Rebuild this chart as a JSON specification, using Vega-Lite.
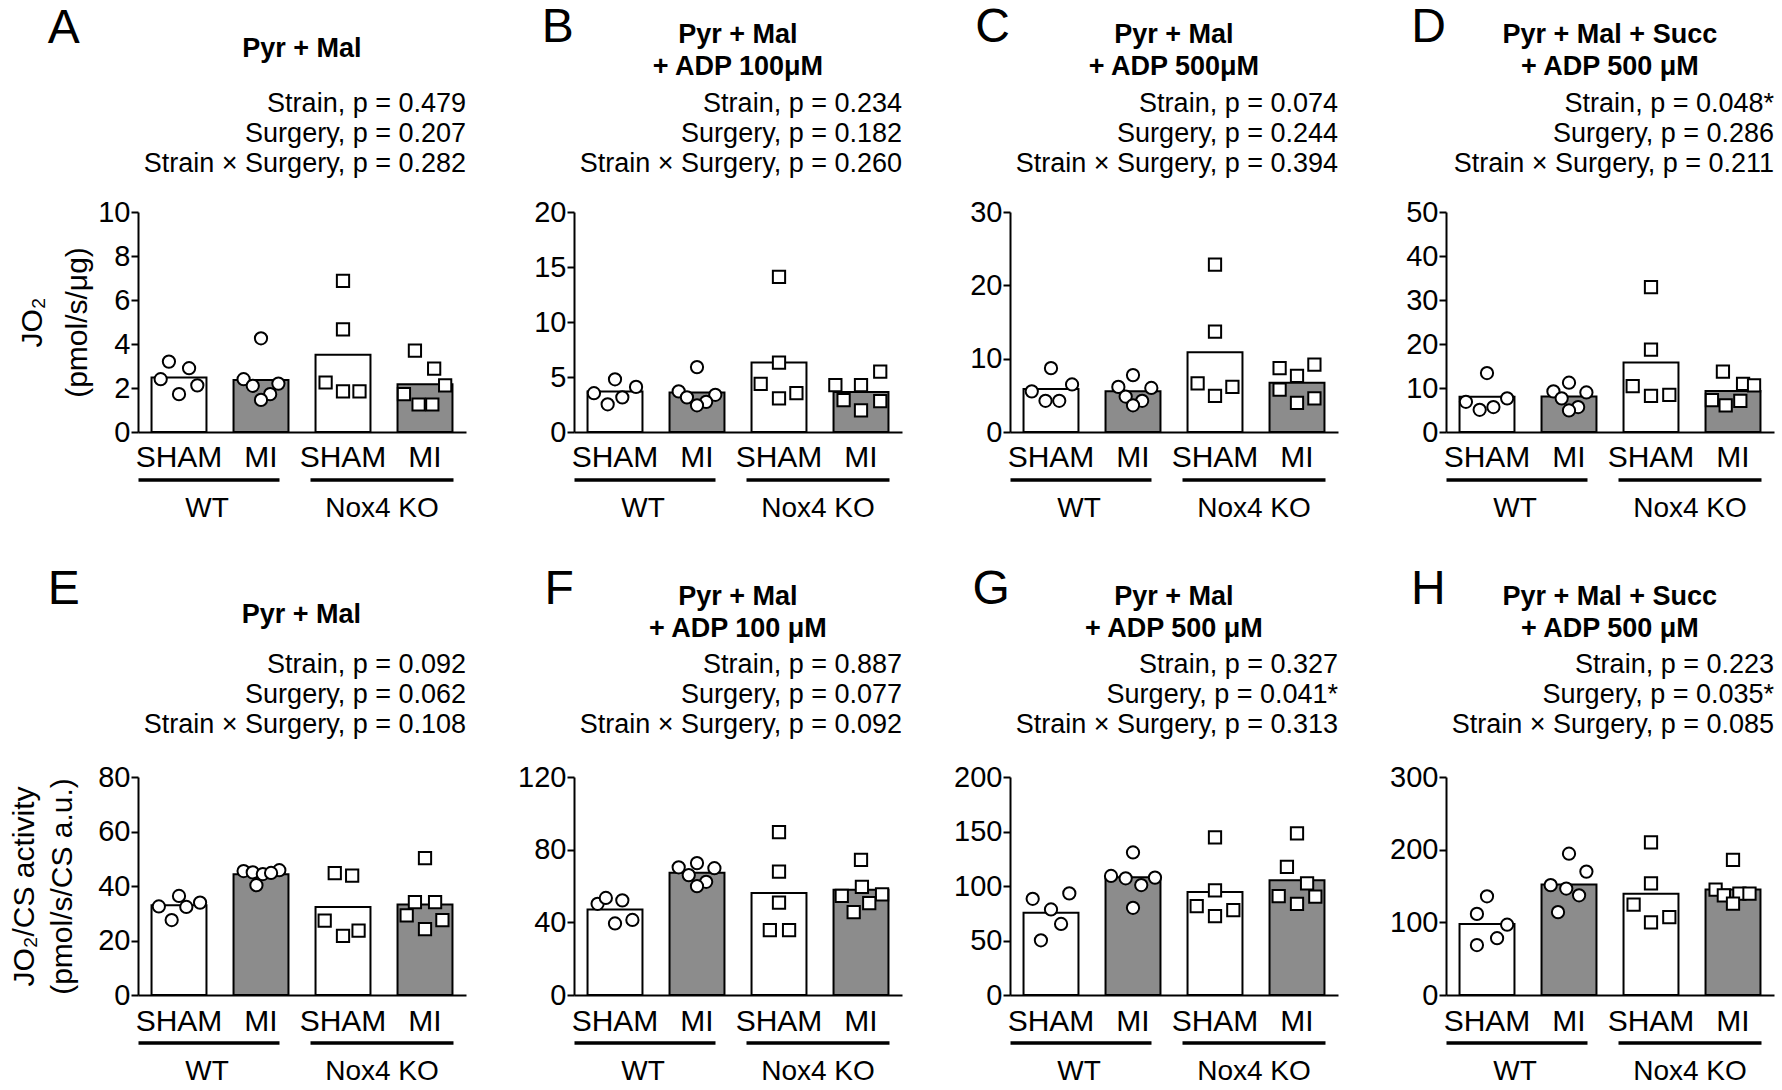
{
"$schema": "https://vega.github.io/schema/vega-lite/v6.json",
"background": "white",
"padding": {"left": 9, "top": 4, "right": 4, "bottom": 0},
"spacing": 42,
"datasets": {
"bars": [
{"panel":"A","strain":"WT","surgery":"SHAM","value":2.48},{"panel":"A","strain":"WT","surgery":"MI","value":2.36},{"panel":"A","strain":"Nox4 KO","surgery":"SHAM","value":3.51},{"panel":"A","strain":"Nox4 KO","surgery":"MI","value":2.17},
{"panel":"B","strain":"WT","surgery":"SHAM","value":3.69},{"panel":"B","strain":"WT","surgery":"MI","value":3.6},{"panel":"B","strain":"Nox4 KO","surgery":"SHAM","value":6.31},{"panel":"B","strain":"Nox4 KO","surgery":"MI","value":3.63},
{"panel":"C","strain":"WT","surgery":"SHAM","value":5.87},{"panel":"C","strain":"WT","surgery":"MI","value":5.54},{"panel":"C","strain":"Nox4 KO","surgery":"SHAM","value":10.88},{"panel":"C","strain":"Nox4 KO","surgery":"MI","value":6.72},
{"panel":"D","strain":"WT","surgery":"SHAM","value":8.0},{"panel":"D","strain":"WT","surgery":"MI","value":8.04},{"panel":"D","strain":"Nox4 KO","surgery":"SHAM","value":15.77},{"panel":"D","strain":"Nox4 KO","surgery":"MI","value":9.3},
{"panel":"E","strain":"WT","surgery":"SHAM","value":32.9},{"panel":"E","strain":"WT","surgery":"MI","value":44.3},{"panel":"E","strain":"Nox4 KO","surgery":"SHAM","value":32.26},{"panel":"E","strain":"Nox4 KO","surgery":"MI","value":33.25},
{"panel":"F","strain":"WT","surgery":"SHAM","value":47.07},{"panel":"F","strain":"WT","surgery":"MI","value":67.35},{"panel":"F","strain":"Nox4 KO","surgery":"SHAM","value":56.2},{"panel":"F","strain":"Nox4 KO","surgery":"MI","value":58.0},
{"panel":"G","strain":"WT","surgery":"SHAM","value":75.4},{"panel":"G","strain":"WT","surgery":"MI","value":108.0},{"panel":"G","strain":"Nox4 KO","surgery":"SHAM","value":94.5},{"panel":"G","strain":"Nox4 KO","surgery":"MI","value":105.2},
{"panel":"H","strain":"WT","surgery":"SHAM","value":97.7},{"panel":"H","strain":"WT","surgery":"MI","value":152.1},{"panel":"H","strain":"Nox4 KO","surgery":"SHAM","value":139.5},{"panel":"H","strain":"Nox4 KO","surgery":"MI","value":145.1}
],
"points": [
{"panel":"A","group":"WT SHAM","strain":"WT","value":3.2,"slot":-1.1},{"panel":"A","group":"WT SHAM","strain":"WT","value":2.9,"slot":1.1},{"panel":"A","group":"WT SHAM","strain":"WT","value":2.4,"slot":-2},{"panel":"A","group":"WT SHAM","strain":"WT","value":2.12,"slot":2},{"panel":"A","group":"WT SHAM","strain":"WT","value":1.72,"slot":0},
{"panel":"A","group":"WT MI","strain":"WT","value":4.26,"slot":0},{"panel":"A","group":"WT MI","strain":"WT","value":2.4,"slot":-1.9},{"panel":"A","group":"WT MI","strain":"WT","value":2.1,"slot":-0.9},{"panel":"A","group":"WT MI","strain":"WT","value":2.2,"slot":1.9},{"panel":"A","group":"WT MI","strain":"WT","value":1.72,"slot":1},{"panel":"A","group":"WT MI","strain":"WT","value":1.46,"slot":0},
{"panel":"A","group":"KO SHAM","strain":"Nox4 KO","value":6.87,"slot":0},{"panel":"A","group":"KO SHAM","strain":"Nox4 KO","value":4.67,"slot":0},{"panel":"A","group":"KO SHAM","strain":"Nox4 KO","value":2.25,"slot":-1.9},{"panel":"A","group":"KO SHAM","strain":"Nox4 KO","value":1.85,"slot":0},{"panel":"A","group":"KO SHAM","strain":"Nox4 KO","value":1.85,"slot":1.8},
{"panel":"A","group":"KO MI","strain":"Nox4 KO","value":3.7,"slot":-1.1},{"panel":"A","group":"KO MI","strain":"Nox4 KO","value":2.88,"slot":1},{"panel":"A","group":"KO MI","strain":"Nox4 KO","value":2.12,"slot":2.2},{"panel":"A","group":"KO MI","strain":"Nox4 KO","value":1.72,"slot":-2.3},{"panel":"A","group":"KO MI","strain":"Nox4 KO","value":1.25,"slot":-0.7},{"panel":"A","group":"KO MI","strain":"Nox4 KO","value":1.25,"slot":0.8},

{"panel":"B","group":"WT SHAM","strain":"WT","value":4.79,"slot":0},{"panel":"B","group":"WT SHAM","strain":"WT","value":3.53,"slot":-2.3},{"panel":"B","group":"WT SHAM","strain":"WT","value":4.1,"slot":2.3},{"panel":"B","group":"WT SHAM","strain":"WT","value":3.15,"slot":0.8},{"panel":"B","group":"WT SHAM","strain":"WT","value":2.52,"slot":-0.8},
{"panel":"B","group":"WT MI","strain":"WT","value":5.9,"slot":0},{"panel":"B","group":"WT MI","strain":"WT","value":3.69,"slot":-2},{"panel":"B","group":"WT MI","strain":"WT","value":3.15,"slot":-1.1},{"panel":"B","group":"WT MI","strain":"WT","value":3.38,"slot":2},{"panel":"B","group":"WT MI","strain":"WT","value":2.74,"slot":1},{"panel":"B","group":"WT MI","strain":"WT","value":2.43,"slot":0},
{"panel":"B","group":"KO SHAM","strain":"Nox4 KO","value":14.1,"slot":0},{"panel":"B","group":"KO SHAM","strain":"Nox4 KO","value":6.31,"slot":0},{"panel":"B","group":"KO SHAM","strain":"Nox4 KO","value":4.38,"slot":-2},{"panel":"B","group":"KO SHAM","strain":"Nox4 KO","value":3.53,"slot":1.9},{"panel":"B","group":"KO SHAM","strain":"Nox4 KO","value":3.06,"slot":0},
{"panel":"B","group":"KO MI","strain":"Nox4 KO","value":5.49,"slot":2.1},{"panel":"B","group":"KO MI","strain":"Nox4 KO","value":4.26,"slot":-2.8},{"panel":"B","group":"KO MI","strain":"Nox4 KO","value":4.26,"slot":0},{"panel":"B","group":"KO MI","strain":"Nox4 KO","value":2.9,"slot":-1.9},{"panel":"B","group":"KO MI","strain":"Nox4 KO","value":2.81,"slot":2.1},{"panel":"B","group":"KO MI","strain":"Nox4 KO","value":1.96,"slot":0},

{"panel":"C","group":"WT SHAM","strain":"WT","value":8.71,"slot":0},{"panel":"C","group":"WT SHAM","strain":"WT","value":5.54,"slot":-2.1},{"panel":"C","group":"WT SHAM","strain":"WT","value":6.48,"slot":2.3},{"panel":"C","group":"WT SHAM","strain":"WT","value":4.26,"slot":0.9},{"panel":"C","group":"WT SHAM","strain":"WT","value":4.26,"slot":-0.6},
{"panel":"C","group":"WT MI","strain":"WT","value":7.76,"slot":0},{"panel":"C","group":"WT MI","strain":"WT","value":6.15,"slot":-1.6},{"panel":"C","group":"WT MI","strain":"WT","value":6.01,"slot":2},{"panel":"C","group":"WT MI","strain":"WT","value":4.83,"slot":-0.8},{"panel":"C","group":"WT MI","strain":"WT","value":4.26,"slot":1},{"panel":"C","group":"WT MI","strain":"WT","value":3.64,"slot":0},
{"panel":"C","group":"KO SHAM","strain":"Nox4 KO","value":22.81,"slot":0},{"panel":"C","group":"KO SHAM","strain":"Nox4 KO","value":13.68,"slot":0},{"panel":"C","group":"KO SHAM","strain":"Nox4 KO","value":6.63,"slot":-1.9},{"panel":"C","group":"KO SHAM","strain":"Nox4 KO","value":6.15,"slot":1.9},{"panel":"C","group":"KO SHAM","strain":"Nox4 KO","value":4.92,"slot":0},
{"panel":"C","group":"KO MI","strain":"Nox4 KO","value":9.18,"slot":1.9},{"panel":"C","group":"KO MI","strain":"Nox4 KO","value":8.71,"slot":-1.9},{"panel":"C","group":"KO MI","strain":"Nox4 KO","value":7.67,"slot":0},{"panel":"C","group":"KO MI","strain":"Nox4 KO","value":5.77,"slot":-1.9},{"panel":"C","group":"KO MI","strain":"Nox4 KO","value":4.59,"slot":1.9},{"panel":"C","group":"KO MI","strain":"Nox4 KO","value":3.98,"slot":0},

{"panel":"D","group":"WT SHAM","strain":"WT","value":13.4,"slot":0},{"panel":"D","group":"WT SHAM","strain":"WT","value":6.86,"slot":-2.3},{"panel":"D","group":"WT SHAM","strain":"WT","value":7.65,"slot":2.2},{"panel":"D","group":"WT SHAM","strain":"WT","value":5.68,"slot":0.7},{"panel":"D","group":"WT SHAM","strain":"WT","value":5.05,"slot":-0.8},
{"panel":"D","group":"WT MI","strain":"WT","value":11.2,"slot":0},{"panel":"D","group":"WT MI","strain":"WT","value":9.23,"slot":-1.7},{"panel":"D","group":"WT MI","strain":"WT","value":8.99,"slot":1.9},{"panel":"D","group":"WT MI","strain":"WT","value":7.65,"slot":-0.8},{"panel":"D","group":"WT MI","strain":"WT","value":5.68,"slot":1},{"panel":"D","group":"WT MI","strain":"WT","value":4.89,"slot":0},
{"panel":"D","group":"KO SHAM","strain":"Nox4 KO","value":32.9,"slot":0},{"panel":"D","group":"KO SHAM","strain":"Nox4 KO","value":18.7,"slot":0},{"panel":"D","group":"KO SHAM","strain":"Nox4 KO","value":10.4,"slot":-2},{"panel":"D","group":"KO SHAM","strain":"Nox4 KO","value":8.44,"slot":2},{"panel":"D","group":"KO SHAM","strain":"Nox4 KO","value":8.2,"slot":0},
{"panel":"D","group":"KO MI","strain":"Nox4 KO","value":13.7,"slot":-1.1},{"panel":"D","group":"KO MI","strain":"Nox4 KO","value":10.96,"slot":1.1},{"panel":"D","group":"KO MI","strain":"Nox4 KO","value":10.57,"slot":2.3},{"panel":"D","group":"KO MI","strain":"Nox4 KO","value":7.26,"slot":-2.3},{"panel":"D","group":"KO MI","strain":"Nox4 KO","value":7.1,"slot":0.8},{"panel":"D","group":"KO MI","strain":"Nox4 KO","value":6.07,"slot":-0.8},

{"panel":"E","group":"WT SHAM","strain":"WT","value":36.35,"slot":0},{"panel":"E","group":"WT SHAM","strain":"WT","value":32.5,"slot":-2.2},{"panel":"E","group":"WT SHAM","strain":"WT","value":33.9,"slot":2.3},{"panel":"E","group":"WT SHAM","strain":"WT","value":32.3,"slot":0.8},{"panel":"E","group":"WT SHAM","strain":"WT","value":27.5,"slot":-0.8},
{"panel":"E","group":"WT MI","strain":"WT","value":45.5,"slot":-1.9},{"panel":"E","group":"WT MI","strain":"WT","value":45.0,"slot":-0.9},{"panel":"E","group":"WT MI","strain":"WT","value":44.4,"slot":0.2},{"panel":"E","group":"WT MI","strain":"WT","value":45.8,"slot":2},{"panel":"E","group":"WT MI","strain":"WT","value":40.3,"slot":-0.5},{"panel":"E","group":"WT MI","strain":"WT","value":44.8,"slot":1.1},
{"panel":"E","group":"KO SHAM","strain":"Nox4 KO","value":44.7,"slot":-0.9},{"panel":"E","group":"KO SHAM","strain":"Nox4 KO","value":43.8,"slot":1},{"panel":"E","group":"KO SHAM","strain":"Nox4 KO","value":27.3,"slot":-2},{"panel":"E","group":"KO SHAM","strain":"Nox4 KO","value":23.6,"slot":1.7},{"panel":"E","group":"KO SHAM","strain":"Nox4 KO","value":21.7,"slot":0},
{"panel":"E","group":"KO MI","strain":"Nox4 KO","value":50.2,"slot":0},{"panel":"E","group":"KO MI","strain":"Nox4 KO","value":34.1,"slot":-1.1},{"panel":"E","group":"KO MI","strain":"Nox4 KO","value":34.1,"slot":1.1},{"panel":"E","group":"KO MI","strain":"Nox4 KO","value":29.2,"slot":-2},{"panel":"E","group":"KO MI","strain":"Nox4 KO","value":27.5,"slot":1.9},{"panel":"E","group":"KO MI","strain":"Nox4 KO","value":24.2,"slot":0},

{"panel":"F","group":"WT SHAM","strain":"WT","value":50.2,"slot":-1.9},{"panel":"F","group":"WT SHAM","strain":"WT","value":53.4,"slot":-1},{"panel":"F","group":"WT SHAM","strain":"WT","value":52.1,"slot":0.8},{"panel":"F","group":"WT SHAM","strain":"WT","value":39.4,"slot":0},{"panel":"F","group":"WT SHAM","strain":"WT","value":41.3,"slot":1.9},
{"panel":"F","group":"WT MI","strain":"WT","value":70.3,"slot":-2},{"panel":"F","group":"WT MI","strain":"WT","value":72.6,"slot":0},{"panel":"F","group":"WT MI","strain":"WT","value":69.8,"slot":1.9},{"panel":"F","group":"WT MI","strain":"WT","value":66.0,"slot":-0.9},{"panel":"F","group":"WT MI","strain":"WT","value":62.3,"slot":1},{"panel":"F","group":"WT MI","strain":"WT","value":59.9,"slot":0},
{"panel":"F","group":"KO SHAM","strain":"Nox4 KO","value":89.7,"slot":0},{"panel":"F","group":"KO SHAM","strain":"Nox4 KO","value":67.9,"slot":0},{"panel":"F","group":"KO SHAM","strain":"Nox4 KO","value":50.8,"slot":0},{"panel":"F","group":"KO SHAM","strain":"Nox4 KO","value":35.7,"slot":-1},{"panel":"F","group":"KO SHAM","strain":"Nox4 KO","value":35.7,"slot":1.1},
{"panel":"F","group":"KO MI","strain":"Nox4 KO","value":74.4,"slot":0},{"panel":"F","group":"KO MI","strain":"Nox4 KO","value":59.5,"slot":0.1},{"panel":"F","group":"KO MI","strain":"Nox4 KO","value":54.5,"slot":-2.1},{"panel":"F","group":"KO MI","strain":"Nox4 KO","value":55.4,"slot":2.3},{"panel":"F","group":"KO MI","strain":"Nox4 KO","value":50.6,"slot":0.9},{"panel":"F","group":"KO MI","strain":"Nox4 KO","value":45.6,"slot":-0.8},

{"panel":"G","group":"WT SHAM","strain":"WT","value":88.3,"slot":-2},{"panel":"G","group":"WT SHAM","strain":"WT","value":78.5,"slot":0},{"panel":"G","group":"WT SHAM","strain":"WT","value":93.2,"slot":2},{"panel":"G","group":"WT SHAM","strain":"WT","value":65.2,"slot":1.1},{"panel":"G","group":"WT SHAM","strain":"WT","value":50.2,"slot":-1.1},
{"panel":"G","group":"WT MI","strain":"WT","value":130.8,"slot":0},{"panel":"G","group":"WT MI","strain":"WT","value":109.2,"slot":-2.4},{"panel":"G","group":"WT MI","strain":"WT","value":107.1,"slot":-0.8},{"panel":"G","group":"WT MI","strain":"WT","value":107.7,"slot":2.4},{"panel":"G","group":"WT MI","strain":"WT","value":100.9,"slot":0.9},{"panel":"G","group":"WT MI","strain":"WT","value":80.0,"slot":0},
{"panel":"G","group":"KO SHAM","strain":"Nox4 KO","value":144.6,"slot":0},{"panel":"G","group":"KO SHAM","strain":"Nox4 KO","value":96.0,"slot":0},{"panel":"G","group":"KO SHAM","strain":"Nox4 KO","value":81.5,"slot":-2},{"panel":"G","group":"KO SHAM","strain":"Nox4 KO","value":77.8,"slot":2},{"panel":"G","group":"KO SHAM","strain":"Nox4 KO","value":72.3,"slot":0},
{"panel":"G","group":"KO MI","strain":"Nox4 KO","value":148.3,"slot":0},{"panel":"G","group":"KO MI","strain":"Nox4 KO","value":117.5,"slot":-1.1},{"panel":"G","group":"KO MI","strain":"Nox4 KO","value":102.5,"slot":1.1},{"panel":"G","group":"KO MI","strain":"Nox4 KO","value":90.8,"slot":-2},{"panel":"G","group":"KO MI","strain":"Nox4 KO","value":90.2,"slot":2},{"panel":"G","group":"KO MI","strain":"Nox4 KO","value":83.7,"slot":0},

{"panel":"H","group":"WT SHAM","strain":"WT","value":135.8,"slot":0},{"panel":"H","group":"WT SHAM","strain":"WT","value":111.6,"slot":-1.1},{"panel":"H","group":"WT SHAM","strain":"WT","value":96.7,"slot":2.2},{"panel":"H","group":"WT SHAM","strain":"WT","value":78.1,"slot":1.1},{"panel":"H","group":"WT SHAM","strain":"WT","value":68.8,"slot":-1.1},
{"panel":"H","group":"WT MI","strain":"WT","value":194.4,"slot":0},{"panel":"H","group":"WT MI","strain":"WT","value":169.8,"slot":1.9},{"panel":"H","group":"WT MI","strain":"WT","value":151.2,"slot":-2},{"panel":"H","group":"WT MI","strain":"WT","value":146.5,"slot":-0.3},{"panel":"H","group":"WT MI","strain":"WT","value":137.2,"slot":1.1},{"panel":"H","group":"WT MI","strain":"WT","value":114.0,"slot":-1.2},
{"panel":"H","group":"KO SHAM","strain":"Nox4 KO","value":210.2,"slot":0},{"panel":"H","group":"KO SHAM","strain":"Nox4 KO","value":153.5,"slot":0},{"panel":"H","group":"KO SHAM","strain":"Nox4 KO","value":124.2,"slot":-1.9},{"panel":"H","group":"KO SHAM","strain":"Nox4 KO","value":107.0,"slot":2},{"panel":"H","group":"KO SHAM","strain":"Nox4 KO","value":100.0,"slot":0},
{"panel":"H","group":"KO MI","strain":"Nox4 KO","value":186.0,"slot":0},{"panel":"H","group":"KO MI","strain":"Nox4 KO","value":145.1,"slot":-1.9},{"panel":"H","group":"KO MI","strain":"Nox4 KO","value":137.2,"slot":-1},{"panel":"H","group":"KO MI","strain":"Nox4 KO","value":139.5,"slot":0.7},{"panel":"H","group":"KO MI","strain":"Nox4 KO","value":139.5,"slot":1.8},{"panel":"H","group":"KO MI","strain":"Nox4 KO","value":125.6,"slot":0}
]
},
"vconcat": [
{"hconcat": [
{"title": {"text": "A", "anchor": "start", "frame": "bounds", "align": "left", "dx": 30, "offset": -17.3, "fontSize": 48, "fontWeight": "normal"},
 "vconcat": [{"title": {"text": ["Pyr + Mal"], "anchor": "middle", "frame": "bounds", "dx": 60, "offset": 26.3, "fontSize": 27, "fontWeight": "bold", "lineHeight": 32},
 "vconcat": [{"width": 328, "height": 220,
  "title": {"text": ["Strain, p = 0.479", "Surgery, p = 0.207", "Strain × Surgery, p = 0.282"], "anchor": "end", "frame": "group", "align": "right", "fontSize": 27, "fontWeight": "normal", "lineHeight": 30, "offset": 20.5},
  "resolve": {"scale": {"x": "independent", "xOffset": "independent"}},
  "layer": [
   {"data": {"name": "bars"}, "transform": [{"filter": {"field": "panel", "equal": "A"}}],
    "mark": {"type": "bar", "stroke": "black", "strokeWidth": 2},
    "encoding": {
     "x": {"field": "strain", "type": "nominal", "sort": null, "scale": {"domain": ["WT", "Nox4 KO"], "paddingInner": 0, "paddingOuter": 0}, "axis": {"orient": "bottom", "offset": 47.5, "ticks": false, "tickSize": 0, "labelPadding": 15, "labelFontSize": 28, "labelAngle": 0, "title": null, "domainWidth": 3.5, "domainDash": [141, 31, 143, 100], "labelOverlap": false, "labelOffset": {"condition": {"test": "datum.value === 'WT'", "value": -13}, "value": -2}}},
     "xOffset": {"field": "surgery", "type": "nominal", "scale": {"domain": ["SHAM", "MI"], "paddingInner": 0.33, "paddingOuter": 0.165}},
     "y": {"field": "value", "type": "quantitative", "scale": {"domain": [0, 10], "nice": false}, "axis": {"values": [0, 2, 4, 6, 8, 10], "tickSize": 7, "labelPadding": 1, "title": ["JO₂", "(pmol/s/μg)"], "titlePadding": 5, "titleLineHeight": 45}},
     "fill": {"field": "surgery", "type": "nominal", "scale": {"domain": ["SHAM", "MI"], "range": ["white", "#8c8c8c"]}, "legend": null}}},
   {"data": {"name": "points"}, "transform": [{"filter": {"field": "panel", "equal": "A"}}],
    "mark": {"type": "point", "filled": true, "fill": "white", "stroke": "black", "strokeWidth": 2, "size": 150, "opacity": 1},
    "encoding": {
     "x": {"field": "group", "type": "nominal", "scale": {"domain": ["WT SHAM", "WT MI", "KO SHAM", "KO MI"], "paddingInner": 0.33, "paddingOuter": 0.165}, "axis": {"orient": "bottom", "ticks": false, "labelPadding": 10.5, "labelFontSize": 30, "labelAngle": 0, "title": null, "labelOverlap": false, "labelExpr": "indexof(datum.value, 'SHAM') >= 0 ? 'SHAM' : 'MI'"}},
     "xOffset": {"field": "slot", "type": "quantitative", "scale": {"domain": [-3, 3]}},
     "y": {"field": "value", "type": "quantitative", "scale": {"domain": [0, 10], "nice": false}},
     "shape": {"field": "strain", "type": "nominal", "scale": {"domain": ["WT", "Nox4 KO"], "range": ["circle", "square"]}, "legend": null}}}
  ]}]}]},
{"title": {"text": "B", "anchor": "start", "frame": "bounds", "align": "left", "dx": 8, "offset": -31, "fontSize": 48, "fontWeight": "normal"},
 "vconcat": [{"title": {"text": ["Pyr + Mal", "+ ADP 100μM"], "anchor": "middle", "frame": "bounds", "dx": 20, "offset": 8.5, "fontSize": 27, "fontWeight": "bold", "lineHeight": 32},
 "vconcat": [{"width": 328, "height": 220,
  "title": {"text": ["Strain, p = 0.234", "Surgery, p = 0.182", "Strain × Surgery, p = 0.260"], "anchor": "end", "frame": "group", "align": "right", "fontSize": 27, "fontWeight": "normal", "lineHeight": 30, "offset": 20.5},
  "resolve": {"scale": {"x": "independent", "xOffset": "independent"}},
  "layer": [
   {"data": {"name": "bars"}, "transform": [{"filter": {"field": "panel", "equal": "B"}}],
    "mark": {"type": "bar", "stroke": "black", "strokeWidth": 2},
    "encoding": {
     "x": {"field": "strain", "type": "nominal", "sort": null, "scale": {"domain": ["WT", "Nox4 KO"], "paddingInner": 0, "paddingOuter": 0}, "axis": {"orient": "bottom", "offset": 47.5, "ticks": false, "tickSize": 0, "labelPadding": 15, "labelFontSize": 28, "labelAngle": 0, "title": null, "domainWidth": 3.5, "domainDash": [141, 31, 143, 100], "labelOverlap": false, "labelOffset": {"condition": {"test": "datum.value === 'WT'", "value": -13}, "value": -2}}},
     "xOffset": {"field": "surgery", "type": "nominal", "scale": {"domain": ["SHAM", "MI"], "paddingInner": 0.33, "paddingOuter": 0.165}},
     "y": {"field": "value", "type": "quantitative", "scale": {"domain": [0, 20], "nice": false}, "axis": {"values": [0, 5, 10, 15, 20], "tickSize": 7, "labelPadding": 1, "title": null}},
     "fill": {"field": "surgery", "type": "nominal", "scale": {"domain": ["SHAM", "MI"], "range": ["white", "#8c8c8c"]}, "legend": null}}},
   {"data": {"name": "points"}, "transform": [{"filter": {"field": "panel", "equal": "B"}}],
    "mark": {"type": "point", "filled": true, "fill": "white", "stroke": "black", "strokeWidth": 2, "size": 150, "opacity": 1},
    "encoding": {
     "x": {"field": "group", "type": "nominal", "scale": {"domain": ["WT SHAM", "WT MI", "KO SHAM", "KO MI"], "paddingInner": 0.33, "paddingOuter": 0.165}, "axis": {"orient": "bottom", "ticks": false, "labelPadding": 10.5, "labelFontSize": 30, "labelAngle": 0, "title": null, "labelOverlap": false, "labelExpr": "indexof(datum.value, 'SHAM') >= 0 ? 'SHAM' : 'MI'"}},
     "xOffset": {"field": "slot", "type": "quantitative", "scale": {"domain": [-3, 3]}},
     "y": {"field": "value", "type": "quantitative", "scale": {"domain": [0, 20], "nice": false}},
     "shape": {"field": "strain", "type": "nominal", "scale": {"domain": ["WT", "Nox4 KO"], "range": ["circle", "square"]}, "legend": null}}}
  ]}]}]},
{"title": {"text": "C", "anchor": "start", "frame": "bounds", "align": "left", "dx": 5.5, "offset": -31, "fontSize": 48, "fontWeight": "normal"},
 "vconcat": [{"title": {"text": ["Pyr + Mal", "+ ADP 500μM"], "anchor": "middle", "frame": "bounds", "dx": 20, "offset": 8.5, "fontSize": 27, "fontWeight": "bold", "lineHeight": 32},
 "vconcat": [{"width": 328, "height": 220,
  "title": {"text": ["Strain, p = 0.074", "Surgery, p = 0.244", "Strain × Surgery, p = 0.394"], "anchor": "end", "frame": "group", "align": "right", "fontSize": 27, "fontWeight": "normal", "lineHeight": 30, "offset": 20.5},
  "resolve": {"scale": {"x": "independent", "xOffset": "independent"}},
  "layer": [
   {"data": {"name": "bars"}, "transform": [{"filter": {"field": "panel", "equal": "C"}}],
    "mark": {"type": "bar", "stroke": "black", "strokeWidth": 2},
    "encoding": {
     "x": {"field": "strain", "type": "nominal", "sort": null, "scale": {"domain": ["WT", "Nox4 KO"], "paddingInner": 0, "paddingOuter": 0}, "axis": {"orient": "bottom", "offset": 47.5, "ticks": false, "tickSize": 0, "labelPadding": 15, "labelFontSize": 28, "labelAngle": 0, "title": null, "domainWidth": 3.5, "domainDash": [141, 31, 143, 100], "labelOverlap": false, "labelOffset": {"condition": {"test": "datum.value === 'WT'", "value": -13}, "value": -2}}},
     "xOffset": {"field": "surgery", "type": "nominal", "scale": {"domain": ["SHAM", "MI"], "paddingInner": 0.33, "paddingOuter": 0.165}},
     "y": {"field": "value", "type": "quantitative", "scale": {"domain": [0, 30], "nice": false}, "axis": {"values": [0, 10, 20, 30], "tickSize": 7, "labelPadding": 1, "title": null}},
     "fill": {"field": "surgery", "type": "nominal", "scale": {"domain": ["SHAM", "MI"], "range": ["white", "#8c8c8c"]}, "legend": null}}},
   {"data": {"name": "points"}, "transform": [{"filter": {"field": "panel", "equal": "C"}}],
    "mark": {"type": "point", "filled": true, "fill": "white", "stroke": "black", "strokeWidth": 2, "size": 150, "opacity": 1},
    "encoding": {
     "x": {"field": "group", "type": "nominal", "scale": {"domain": ["WT SHAM", "WT MI", "KO SHAM", "KO MI"], "paddingInner": 0.33, "paddingOuter": 0.165}, "axis": {"orient": "bottom", "ticks": false, "labelPadding": 10.5, "labelFontSize": 30, "labelAngle": 0, "title": null, "labelOverlap": false, "labelExpr": "indexof(datum.value, 'SHAM') >= 0 ? 'SHAM' : 'MI'"}},
     "xOffset": {"field": "slot", "type": "quantitative", "scale": {"domain": [-3, 3]}},
     "y": {"field": "value", "type": "quantitative", "scale": {"domain": [0, 30], "nice": false}},
     "shape": {"field": "strain", "type": "nominal", "scale": {"domain": ["WT", "Nox4 KO"], "range": ["circle", "square"]}, "legend": null}}}
  ]}]}]},
{"title": {"text": "D", "anchor": "start", "frame": "bounds", "align": "left", "dx": 5.5, "offset": -31, "fontSize": 48, "fontWeight": "normal"},
 "vconcat": [{"title": {"text": ["Pyr + Mal + Succ", "+ ADP 500 μM"], "anchor": "middle", "frame": "bounds", "dx": 20, "offset": 8.5, "fontSize": 27, "fontWeight": "bold", "lineHeight": 32},
 "vconcat": [{"width": 328, "height": 220,
  "title": {"text": ["Strain, p = 0.048*", "Surgery, p = 0.286", "Strain × Surgery, p = 0.211"], "anchor": "end", "frame": "group", "align": "right", "fontSize": 27, "fontWeight": "normal", "lineHeight": 30, "offset": 20.5},
  "resolve": {"scale": {"x": "independent", "xOffset": "independent"}},
  "layer": [
   {"data": {"name": "bars"}, "transform": [{"filter": {"field": "panel", "equal": "D"}}],
    "mark": {"type": "bar", "stroke": "black", "strokeWidth": 2},
    "encoding": {
     "x": {"field": "strain", "type": "nominal", "sort": null, "scale": {"domain": ["WT", "Nox4 KO"], "paddingInner": 0, "paddingOuter": 0}, "axis": {"orient": "bottom", "offset": 47.5, "ticks": false, "tickSize": 0, "labelPadding": 15, "labelFontSize": 28, "labelAngle": 0, "title": null, "domainWidth": 3.5, "domainDash": [141, 31, 143, 100], "labelOverlap": false, "labelOffset": {"condition": {"test": "datum.value === 'WT'", "value": -13}, "value": -2}}},
     "xOffset": {"field": "surgery", "type": "nominal", "scale": {"domain": ["SHAM", "MI"], "paddingInner": 0.33, "paddingOuter": 0.165}},
     "y": {"field": "value", "type": "quantitative", "scale": {"domain": [0, 50], "nice": false}, "axis": {"values": [0, 10, 20, 30, 40, 50], "tickSize": 7, "labelPadding": 1, "title": null}},
     "fill": {"field": "surgery", "type": "nominal", "scale": {"domain": ["SHAM", "MI"], "range": ["white", "#8c8c8c"]}, "legend": null}}},
   {"data": {"name": "points"}, "transform": [{"filter": {"field": "panel", "equal": "D"}}],
    "mark": {"type": "point", "filled": true, "fill": "white", "stroke": "black", "strokeWidth": 2, "size": 150, "opacity": 1},
    "encoding": {
     "x": {"field": "group", "type": "nominal", "scale": {"domain": ["WT SHAM", "WT MI", "KO SHAM", "KO MI"], "paddingInner": 0.33, "paddingOuter": 0.165}, "axis": {"orient": "bottom", "ticks": false, "labelPadding": 10.5, "labelFontSize": 30, "labelAngle": 0, "title": null, "labelOverlap": false, "labelExpr": "indexof(datum.value, 'SHAM') >= 0 ? 'SHAM' : 'MI'"}},
     "xOffset": {"field": "slot", "type": "quantitative", "scale": {"domain": [-3, 3]}},
     "y": {"field": "value", "type": "quantitative", "scale": {"domain": [0, 50], "nice": false}},
     "shape": {"field": "strain", "type": "nominal", "scale": {"domain": ["WT", "Nox4 KO"], "range": ["circle", "square"]}, "legend": null}}}
  ]}]}]}
], "spacing": 67},
{"hconcat": [
{"title": {"text": "E", "anchor": "start", "frame": "bounds", "align": "left", "dx": 38, "offset": -12.7, "fontSize": 48, "fontWeight": "normal"},
 "vconcat": [{"title": {"text": ["Pyr + Mal"], "anchor": "middle", "frame": "bounds", "dx": 63.5, "offset": 21.7, "fontSize": 27, "fontWeight": "bold", "lineHeight": 32},
 "vconcat": [{"width": 328, "height": 218,
  "title": {"text": ["Strain, p = 0.092", "Surgery, p = 0.062", "Strain × Surgery, p = 0.108"], "anchor": "end", "frame": "group", "align": "right", "fontSize": 27, "fontWeight": "normal", "lineHeight": 30, "offset": 24},
  "resolve": {"scale": {"x": "independent", "xOffset": "independent"}},
  "layer": [
   {"data": {"name": "bars"}, "transform": [{"filter": {"field": "panel", "equal": "E"}}],
    "mark": {"type": "bar", "stroke": "black", "strokeWidth": 2},
    "encoding": {
     "x": {"field": "strain", "type": "nominal", "sort": null, "scale": {"domain": ["WT", "Nox4 KO"], "paddingInner": 0, "paddingOuter": 0}, "axis": {"orient": "bottom", "offset": 47.5, "ticks": false, "tickSize": 0, "labelPadding": 15, "labelFontSize": 28, "labelAngle": 0, "title": null, "domainWidth": 3.5, "domainDash": [141, 31, 143, 100], "labelOverlap": false, "labelOffset": {"condition": {"test": "datum.value === 'WT'", "value": -13}, "value": -2}}},
     "xOffset": {"field": "surgery", "type": "nominal", "scale": {"domain": ["SHAM", "MI"], "paddingInner": 0.33, "paddingOuter": 0.165}},
     "y": {"field": "value", "type": "quantitative", "scale": {"domain": [0, 80], "nice": false}, "axis": {"values": [0, 20, 40, 60, 80], "tickSize": 7, "labelPadding": 1, "title": ["JO₂/CS activity", "(pmol/s/CS a.u.)"], "titlePadding": 20, "titleLineHeight": 38}},
     "fill": {"field": "surgery", "type": "nominal", "scale": {"domain": ["SHAM", "MI"], "range": ["white", "#8c8c8c"]}, "legend": null}}},
   {"data": {"name": "points"}, "transform": [{"filter": {"field": "panel", "equal": "E"}}],
    "mark": {"type": "point", "filled": true, "fill": "white", "stroke": "black", "strokeWidth": 2, "size": 150, "opacity": 1},
    "encoding": {
     "x": {"field": "group", "type": "nominal", "scale": {"domain": ["WT SHAM", "WT MI", "KO SHAM", "KO MI"], "paddingInner": 0.33, "paddingOuter": 0.165}, "axis": {"orient": "bottom", "ticks": false, "labelPadding": 11.5, "labelFontSize": 30, "labelAngle": 0, "title": null, "labelOverlap": false, "labelExpr": "indexof(datum.value, 'SHAM') >= 0 ? 'SHAM' : 'MI'"}},
     "xOffset": {"field": "slot", "type": "quantitative", "scale": {"domain": [-3, 3]}},
     "y": {"field": "value", "type": "quantitative", "scale": {"domain": [0, 80], "nice": false}},
     "shape": {"field": "strain", "type": "nominal", "scale": {"domain": ["WT", "Nox4 KO"], "range": ["circle", "square"]}, "legend": null}}}
  ]}]}]},
{"title": {"text": "F", "anchor": "start", "frame": "bounds", "align": "left", "dx": 27, "offset": -31, "fontSize": 48, "fontWeight": "normal"},
 "vconcat": [{"title": {"text": ["Pyr + Mal", "+ ADP 100 μM"], "anchor": "middle", "frame": "bounds", "dx": 28, "offset": 8.5, "fontSize": 27, "fontWeight": "bold", "lineHeight": 32},
 "vconcat": [{"width": 328, "height": 218,
  "title": {"text": ["Strain, p = 0.887", "Surgery, p = 0.077", "Strain × Surgery, p = 0.092"], "anchor": "end", "frame": "group", "align": "right", "fontSize": 27, "fontWeight": "normal", "lineHeight": 30, "offset": 24},
  "resolve": {"scale": {"x": "independent", "xOffset": "independent"}},
  "layer": [
   {"data": {"name": "bars"}, "transform": [{"filter": {"field": "panel", "equal": "F"}}],
    "mark": {"type": "bar", "stroke": "black", "strokeWidth": 2},
    "encoding": {
     "x": {"field": "strain", "type": "nominal", "sort": null, "scale": {"domain": ["WT", "Nox4 KO"], "paddingInner": 0, "paddingOuter": 0}, "axis": {"orient": "bottom", "offset": 47.5, "ticks": false, "tickSize": 0, "labelPadding": 15, "labelFontSize": 28, "labelAngle": 0, "title": null, "domainWidth": 3.5, "domainDash": [141, 31, 143, 100], "labelOverlap": false, "labelOffset": {"condition": {"test": "datum.value === 'WT'", "value": -13}, "value": -2}}},
     "xOffset": {"field": "surgery", "type": "nominal", "scale": {"domain": ["SHAM", "MI"], "paddingInner": 0.33, "paddingOuter": 0.165}},
     "y": {"field": "value", "type": "quantitative", "scale": {"domain": [0, 120], "nice": false}, "axis": {"values": [0, 40, 80, 120], "tickSize": 7, "labelPadding": 1, "title": null}},
     "fill": {"field": "surgery", "type": "nominal", "scale": {"domain": ["SHAM", "MI"], "range": ["white", "#8c8c8c"]}, "legend": null}}},
   {"data": {"name": "points"}, "transform": [{"filter": {"field": "panel", "equal": "F"}}],
    "mark": {"type": "point", "filled": true, "fill": "white", "stroke": "black", "strokeWidth": 2, "size": 150, "opacity": 1},
    "encoding": {
     "x": {"field": "group", "type": "nominal", "scale": {"domain": ["WT SHAM", "WT MI", "KO SHAM", "KO MI"], "paddingInner": 0.33, "paddingOuter": 0.165}, "axis": {"orient": "bottom", "ticks": false, "labelPadding": 11.5, "labelFontSize": 30, "labelAngle": 0, "title": null, "labelOverlap": false, "labelExpr": "indexof(datum.value, 'SHAM') >= 0 ? 'SHAM' : 'MI'"}},
     "xOffset": {"field": "slot", "type": "quantitative", "scale": {"domain": [-3, 3]}},
     "y": {"field": "value", "type": "quantitative", "scale": {"domain": [0, 120], "nice": false}},
     "shape": {"field": "strain", "type": "nominal", "scale": {"domain": ["WT", "Nox4 KO"], "range": ["circle", "square"]}, "legend": null}}}
  ]}]}]},
{"title": {"text": "G", "anchor": "start", "frame": "bounds", "align": "left", "dx": 19, "offset": -31, "fontSize": 48, "fontWeight": "normal"},
 "vconcat": [{"title": {"text": ["Pyr + Mal", "+ ADP 500 μM"], "anchor": "middle", "frame": "bounds", "dx": 28, "offset": 8.5, "fontSize": 27, "fontWeight": "bold", "lineHeight": 32},
 "vconcat": [{"width": 328, "height": 218,
  "title": {"text": ["Strain, p = 0.327", "Surgery, p = 0.041*", "Strain × Surgery, p = 0.313"], "anchor": "end", "frame": "group", "align": "right", "fontSize": 27, "fontWeight": "normal", "lineHeight": 30, "offset": 24},
  "resolve": {"scale": {"x": "independent", "xOffset": "independent"}},
  "layer": [
   {"data": {"name": "bars"}, "transform": [{"filter": {"field": "panel", "equal": "G"}}],
    "mark": {"type": "bar", "stroke": "black", "strokeWidth": 2},
    "encoding": {
     "x": {"field": "strain", "type": "nominal", "sort": null, "scale": {"domain": ["WT", "Nox4 KO"], "paddingInner": 0, "paddingOuter": 0}, "axis": {"orient": "bottom", "offset": 47.5, "ticks": false, "tickSize": 0, "labelPadding": 15, "labelFontSize": 28, "labelAngle": 0, "title": null, "domainWidth": 3.5, "domainDash": [141, 31, 143, 100], "labelOverlap": false, "labelOffset": {"condition": {"test": "datum.value === 'WT'", "value": -13}, "value": -2}}},
     "xOffset": {"field": "surgery", "type": "nominal", "scale": {"domain": ["SHAM", "MI"], "paddingInner": 0.33, "paddingOuter": 0.165}},
     "y": {"field": "value", "type": "quantitative", "scale": {"domain": [0, 200], "nice": false}, "axis": {"values": [0, 50, 100, 150, 200], "tickSize": 7, "labelPadding": 1, "title": null}},
     "fill": {"field": "surgery", "type": "nominal", "scale": {"domain": ["SHAM", "MI"], "range": ["white", "#8c8c8c"]}, "legend": null}}},
   {"data": {"name": "points"}, "transform": [{"filter": {"field": "panel", "equal": "G"}}],
    "mark": {"type": "point", "filled": true, "fill": "white", "stroke": "black", "strokeWidth": 2, "size": 150, "opacity": 1},
    "encoding": {
     "x": {"field": "group", "type": "nominal", "scale": {"domain": ["WT SHAM", "WT MI", "KO SHAM", "KO MI"], "paddingInner": 0.33, "paddingOuter": 0.165}, "axis": {"orient": "bottom", "ticks": false, "labelPadding": 11.5, "labelFontSize": 30, "labelAngle": 0, "title": null, "labelOverlap": false, "labelExpr": "indexof(datum.value, 'SHAM') >= 0 ? 'SHAM' : 'MI'"}},
     "xOffset": {"field": "slot", "type": "quantitative", "scale": {"domain": [-3, 3]}},
     "y": {"field": "value", "type": "quantitative", "scale": {"domain": [0, 200], "nice": false}},
     "shape": {"field": "strain", "type": "nominal", "scale": {"domain": ["WT", "Nox4 KO"], "range": ["circle", "square"]}, "legend": null}}}
  ]}]}]},
{"title": {"text": "H", "anchor": "start", "frame": "bounds", "align": "left", "dx": 21.5, "offset": -31, "fontSize": 48, "fontWeight": "normal"},
 "vconcat": [{"title": {"text": ["Pyr + Mal + Succ", "+ ADP 500 μM"], "anchor": "middle", "frame": "bounds", "dx": 28, "offset": 8.5, "fontSize": 27, "fontWeight": "bold", "lineHeight": 32},
 "vconcat": [{"width": 328, "height": 218,
  "title": {"text": ["Strain, p = 0.223", "Surgery, p = 0.035*", "Strain × Surgery, p = 0.085"], "anchor": "end", "frame": "group", "align": "right", "fontSize": 27, "fontWeight": "normal", "lineHeight": 30, "offset": 24},
  "resolve": {"scale": {"x": "independent", "xOffset": "independent"}},
  "layer": [
   {"data": {"name": "bars"}, "transform": [{"filter": {"field": "panel", "equal": "H"}}],
    "mark": {"type": "bar", "stroke": "black", "strokeWidth": 2},
    "encoding": {
     "x": {"field": "strain", "type": "nominal", "sort": null, "scale": {"domain": ["WT", "Nox4 KO"], "paddingInner": 0, "paddingOuter": 0}, "axis": {"orient": "bottom", "offset": 47.5, "ticks": false, "tickSize": 0, "labelPadding": 15, "labelFontSize": 28, "labelAngle": 0, "title": null, "domainWidth": 3.5, "domainDash": [141, 31, 143, 100], "labelOverlap": false, "labelOffset": {"condition": {"test": "datum.value === 'WT'", "value": -13}, "value": -2}}},
     "xOffset": {"field": "surgery", "type": "nominal", "scale": {"domain": ["SHAM", "MI"], "paddingInner": 0.33, "paddingOuter": 0.165}},
     "y": {"field": "value", "type": "quantitative", "scale": {"domain": [0, 300], "nice": false}, "axis": {"values": [0, 100, 200, 300], "tickSize": 7, "labelPadding": 1, "title": null}},
     "fill": {"field": "surgery", "type": "nominal", "scale": {"domain": ["SHAM", "MI"], "range": ["white", "#8c8c8c"]}, "legend": null}}},
   {"data": {"name": "points"}, "transform": [{"filter": {"field": "panel", "equal": "H"}}],
    "mark": {"type": "point", "filled": true, "fill": "white", "stroke": "black", "strokeWidth": 2, "size": 150, "opacity": 1},
    "encoding": {
     "x": {"field": "group", "type": "nominal", "scale": {"domain": ["WT SHAM", "WT MI", "KO SHAM", "KO MI"], "paddingInner": 0.33, "paddingOuter": 0.165}, "axis": {"orient": "bottom", "ticks": false, "labelPadding": 11.5, "labelFontSize": 30, "labelAngle": 0, "title": null, "labelOverlap": false, "labelExpr": "indexof(datum.value, 'SHAM') >= 0 ? 'SHAM' : 'MI'"}},
     "xOffset": {"field": "slot", "type": "quantitative", "scale": {"domain": [-3, 3]}},
     "y": {"field": "value", "type": "quantitative", "scale": {"domain": [0, 300], "nice": false}},
     "shape": {"field": "strain", "type": "nominal", "scale": {"domain": ["WT", "Nox4 KO"], "range": ["circle", "square"]}, "legend": null}}}
  ]}]}]}
], "spacing": 51}
],
"config": {
 "font": "Liberation Sans",
 "view": {"stroke": null},
 "title": {"font": "Liberation Sans", "color": "black"},
 "axis": {"domainColor": "black", "domainWidth": 2, "tickColor": "black", "tickWidth": 2, "labelColor": "black", "labelFont": "Liberation Sans", "labelFontSize": 29, "titleFont": "Liberation Sans", "titleFontSize": 30, "titleFontWeight": "normal", "titleColor": "black", "grid": false}
}
}
